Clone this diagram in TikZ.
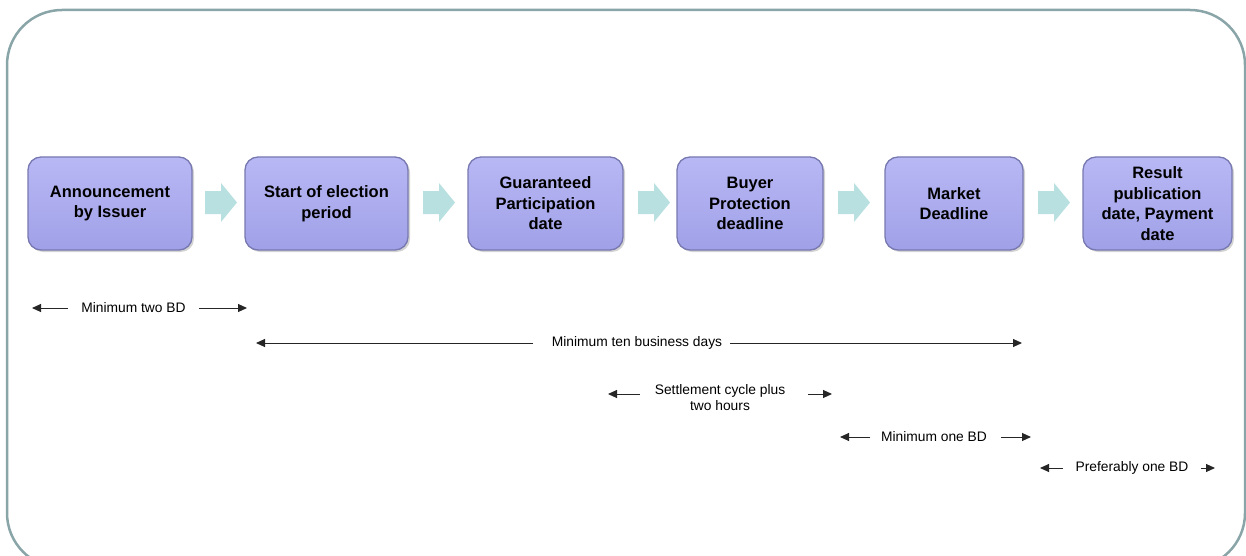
\documentclass[tikz,border=0pt]{standalone}
\usepackage{fontspec}
\setmainfont{Liberation Sans}
\usetikzlibrary{arrows.meta,shadows}
\definecolor{frameC}{RGB}{138,165,168}
\definecolor{boxTop}{RGB}{184,184,245}
\definecolor{boxBot}{RGB}{160,160,232}
\definecolor{boxEdge}{RGB}{120,120,176}
\definecolor{chev}{RGB}{184,224,224}
\tikzset{
  stepbox/.style={rounded corners=13pt, top color=boxTop, bottom color=boxBot,
    draw=boxEdge, line width=1.3pt, inner sep=0pt, align=center,
    font=\bfseries\fontsize{16.5}{20.5}\selectfont,
    drop shadow={opacity=0.35, shadow xshift=2pt, shadow yshift=-2pt}},
  chevpic/.pic={\fill[chev] (0,-11.5) -- (16,-11.5) -- (16,-19.5) -- (32,0)
      -- (16,19.5) -- (16,11.5) -- (0,11.5) -- cycle;},
  lbl/.style={font=\fontsize{13.8}{16}\selectfont, align=center, inner sep=0pt},
  dim/.style={line width=1pt, draw=black!85, -{Triangle[length=9pt,width=8pt]}}
}
\begin{document}
\begin{tikzpicture}[x=1pt,y=-1pt]
\useasboundingbox (0,0) rectangle (1246,556);
\clip (0,0) rectangle (1246,556);
% frame
\draw[frameC, line width=2.5pt, rounded corners=55pt] (7,10) rectangle (1245,568);
% boxes
\node[stepbox, minimum width=164pt, minimum height=93pt] (b1) at (110,203.5) {Announcement\\by Issuer};
\node[stepbox, minimum width=163pt, minimum height=93pt] (b2) at (326.5,203.5) {Start of election\\period};
\node[stepbox, minimum width=155pt, minimum height=93pt] (b3) at (545.5,203.5) {Guaranteed\\Participation\\date};
\node[stepbox, minimum width=146pt, minimum height=93pt] (b4) at (750,203.5) {Buyer\\Protection\\deadline};
\node[stepbox, minimum width=138pt, minimum height=93pt] (b5) at (954,203.5) {Market\\Deadline};
\node[stepbox, minimum width=149pt, minimum height=93pt] (b6) at (1157.5,203.5) {Result\\publication\\date, Payment\\date};
% chevrons
\pic (c1) at (205,202.5) {chevpic};
\pic (c2) at (423,202.5) {chevpic};
\pic (c3) at (638,202.5) {chevpic};
\pic (c4) at (838,202.5) {chevpic};
\pic (c5) at (1038,202.5) {chevpic};
% row 1
\node[lbl] (l1) at (133.5,308) {Minimum two BD};
\coordinate (l1a) at (68,308); \coordinate (l1b) at (32,308);
\coordinate (l1c) at (199,308); \coordinate (l1d) at (247,308);
\draw[dim] (l1a) -- (l1b);
\draw[dim] (l1c) -- (l1d);
% row 2
\node[lbl] (l2) at (637,343) {Minimum ten business days};
\coordinate (l2a) at (533,343); \coordinate (l2b) at (256,343);
\coordinate (l2c) at (730,343); \coordinate (l2d) at (1022,343);
\draw[dim] (l2a) -- (l2b);
\draw[dim] (l2c) -- (l2d);
% row 3
\node[lbl] (l3) at (720,398) {Settlement cycle plus\\two hours};
\coordinate (l3a) at (640,394); \coordinate (l3b) at (608,394);
\coordinate (l3c) at (808,394); \coordinate (l3d) at (832,394);
\draw[dim] (l3a) -- (l3b);
\draw[dim] (l3c) -- (l3d);
% row 4
\node[lbl] (l4) at (934,437) {Minimum one BD};
\coordinate (l4a) at (870,437); \coordinate (l4b) at (840,437);
\coordinate (l4c) at (1001,437); \coordinate (l4d) at (1031,437);
\draw[dim] (l4a) -- (l4b);
\draw[dim] (l4c) -- (l4d);
% row 5
\node[lbl] (l5) at (1132,468) {Preferably one BD};
\coordinate (l5a) at (1063,468); \coordinate (l5b) at (1040,468);
\coordinate (l5c) at (1201,468); \coordinate (l5d) at (1215,468);
\draw[dim] (l5a) -- (l5b);
\draw[dim] (l5c) -- (l5d);
\end{tikzpicture}
\end{document}
